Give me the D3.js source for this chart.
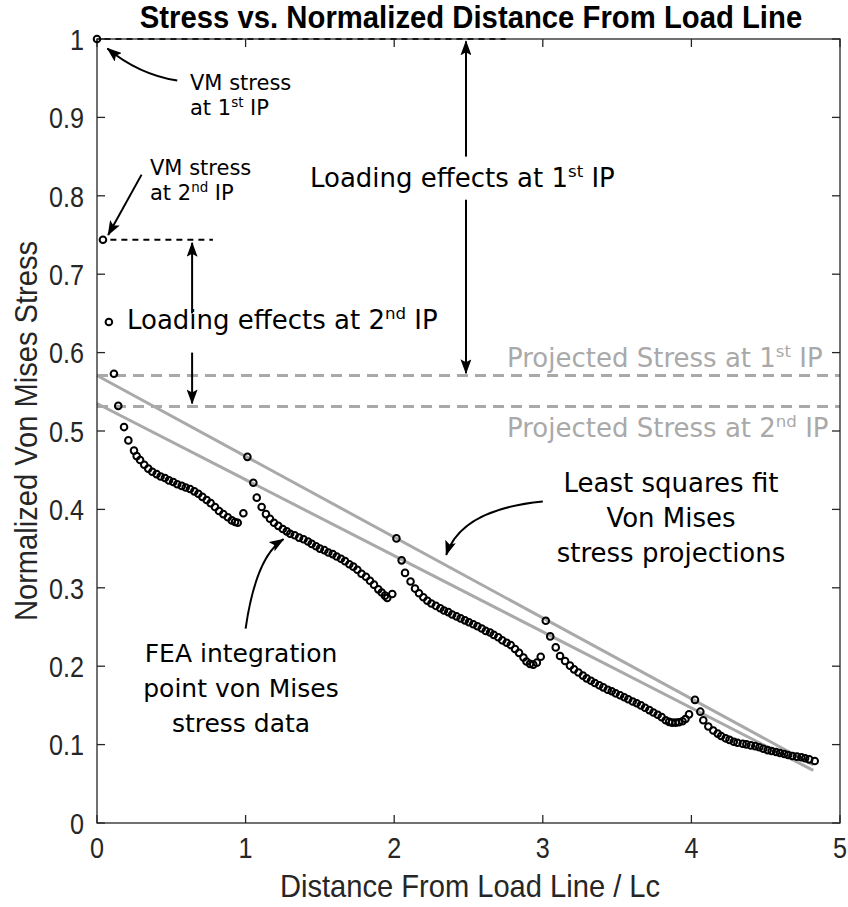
<!DOCTYPE html>
<html>
<head>
<meta charset="utf-8">
<script src="https://cdn.jsdelivr.net/npm/d3@7"></script>
<style>
  body { margin: 0; background: #fff; }
  .axisfont { font-family: "Liberation Sans", Arial, Helvetica, sans-serif; }
  .note { font-family: "DejaVu Sans", Verdana, sans-serif; }
</style>
</head>
<body>
<svg id="chart" width="848" height="907"></svg>
<script>
// Integration-point von Mises stress, normalized, per element (distance / Lc)
const elem1X = [0, 0.04, 0.08, 0.114, 0.143, 0.182, 0.211, 0.249, 0.267, 0.29, 0.318, 0.345, 0.372, 0.401, 0.428, 0.457, 0.484, 0.513, 0.54, 0.57, 0.597, 0.626, 0.655, 0.682, 0.709, 0.738, 0.765, 0.794, 0.821, 0.85, 0.88, 0.907, 0.929, 0.947, 0.985];
const elem1Y = [1.0, 0.744, 0.639, 0.573, 0.532, 0.505, 0.488, 0.475, 0.468, 0.463, 0.457, 0.452, 0.448, 0.445, 0.442, 0.440, 0.437, 0.435, 0.432, 0.430, 0.428, 0.426, 0.423, 0.420, 0.416, 0.412, 0.408, 0.403, 0.398, 0.394, 0.390, 0.386, 0.384, 0.383, 0.395];

const elem2X = [1.012, 1.052, 1.075, 1.108, 1.137, 1.164, 1.191, 1.22, 1.25, 1.277, 1.30, 1.33, 1.36, 1.39, 1.42, 1.445, 1.474, 1.50, 1.53, 1.557, 1.586, 1.613, 1.642, 1.669, 1.698, 1.725, 1.752, 1.78, 1.81, 1.837, 1.864, 1.893, 1.916, 1.938, 1.953, 1.987];
const elem2Y = [0.467, 0.434, 0.415, 0.403, 0.394, 0.388, 0.383, 0.379, 0.375, 0.372, 0.369, 0.367, 0.364, 0.362, 0.359, 0.356, 0.353, 0.350, 0.348, 0.345, 0.343, 0.340, 0.337, 0.334, 0.330, 0.327, 0.323, 0.318, 0.314, 0.309, 0.304, 0.298, 0.294, 0.290, 0.287, 0.292];

const elem3X = [2.015, 2.05, 2.073, 2.11, 2.14, 2.167, 2.196, 2.223, 2.25, 2.28, 2.31, 2.335, 2.364, 2.39, 2.42, 2.447, 2.476, 2.503, 2.532, 2.56, 2.589, 2.616, 2.645, 2.67, 2.70, 2.727, 2.757, 2.784, 2.813, 2.84, 2.87, 2.89, 2.914, 2.936, 2.96, 2.986];
const elem3Y = [0.363, 0.335, 0.319, 0.308, 0.299, 0.293, 0.288, 0.2835, 0.280, 0.277, 0.274, 0.271, 0.269, 0.266, 0.2635, 0.261, 0.2585, 0.256, 0.2535, 0.251, 0.248, 0.245, 0.243, 0.240, 0.237, 0.233, 0.230, 0.227, 0.222, 0.217, 0.211, 0.206, 0.203, 0.202, 0.2045, 0.212];

const elem4X = [3.02, 3.05, 3.087, 3.116, 3.15, 3.183, 3.21, 3.24, 3.27, 3.295, 3.324, 3.35, 3.38, 3.407, 3.437, 3.464, 3.49, 3.52, 3.548, 3.575, 3.605, 3.632, 3.66, 3.688, 3.717, 3.744, 3.773, 3.80, 3.827, 3.85, 3.87, 3.894, 3.916, 3.94, 3.96, 3.984];
const elem4Y = [0.258, 0.238, 0.224, 0.213, 0.2066, 0.2007, 0.196, 0.192, 0.188, 0.1845, 0.1815, 0.1786, 0.1756, 0.173, 0.170, 0.168, 0.1654, 0.1629, 0.1603, 0.1578, 0.155, 0.1527, 0.150, 0.147, 0.144, 0.141, 0.138, 0.135, 0.131, 0.129, 0.128, 0.128, 0.1285, 0.1297, 0.1327, 0.1386];

const elem5X = [4.024, 4.06, 4.08, 4.114, 4.147, 4.177, 4.20, 4.23, 4.256, 4.285, 4.31, 4.345, 4.37, 4.40, 4.43, 4.457, 4.484, 4.513, 4.54, 4.57, 4.596, 4.625, 4.65, 4.68, 4.71, 4.74, 4.765, 4.793, 4.83];
const elem5Y = [0.157, 0.142, 0.131, 0.123, 0.118, 0.114, 0.111, 0.108, 0.106, 0.1037, 0.1024, 0.1011, 0.1003, 0.099, 0.098, 0.0966, 0.0948, 0.093, 0.0918, 0.0906, 0.0893, 0.088, 0.0867, 0.0855, 0.0846, 0.0838, 0.0825, 0.0812, 0.079];

const xTicks = [0, 1, 2, 3, 4, 5];
const xTickLabels = ["0", "1", "2", "3", "4", "5"];
const yTicks = [0, 0.1, 0.2, 0.3, 0.4, 0.5, 0.6, 0.7, 0.8, 0.9, 1];
const yTickLabels = ["0", "0.1", "0.2", "0.3", "0.4", "0.5", "0.6", "0.7", "0.8", "0.9", "1"];
const fitEndX = 4.82;

const elemX = [elem1X, elem2X, elem3X, elem4X, elem5X];
const elemY = [elem1Y, elem2Y, elem3Y, elem4Y, elem5Y];

const svg = d3.select("#chart");
const plot = { left: 97, right: 840, top: 39, bottom: 823 };
const x = d3.scaleLinear().domain([0, 5]).range([plot.left, plot.right]);
const y = d3.scaleLinear().domain([0, 1]).range([plot.bottom, plot.top]);

// Least-squares line through a set of points
function lsq(px, py) {
  const mx = d3.mean(px), my = d3.mean(py);
  let sxy = 0, sxx = 0;
  px.forEach((v, i) => { sxy += (v - mx) * (py[i] - my); sxx += (v - mx) * (v - mx); });
  const m = sxy / sxx;
  return { m, b: my - m * mx, at: t => my + m * (t - mx) };
}
// First and second integration points of elements 2..5 define the projections
const fit1 = lsq(elemX.slice(1).map(a => a[0]), elemY.slice(1).map(a => a[0]));
const fit2 = lsq(elemX.slice(1).map(a => a[1]), elemY.slice(1).map(a => a[1]));
const proj1 = fit1.at(elem1X[0]);
const proj2 = fit2.at(elem1X[1]);

const defs = svg.append("defs");
defs.append("marker").attr("id", "head")
  .attr("markerUnits", "userSpaceOnUse")
  .attr("viewBox", "0 0 15 11").attr("markerWidth", 15).attr("markerHeight", 11)
  .attr("refX", 14).attr("refY", 5.5).attr("orient", "auto")
  .append("path").attr("d", "M0,0 L15,5.5 L0,11 L3,5.5 Z").attr("fill", "#000");

const gray = "#a9a9a9";

// Projected stress reference lines
[proj1, proj2].forEach(v => {
  svg.append("line")
    .attr("x1", x(0)).attr("x2", x(5)).attr("y1", y(v)).attr("y2", y(v))
    .attr("stroke", gray).attr("stroke-width", 3).attr("stroke-dasharray", "11,7");
});

// Least squares fit lines
[fit1, fit2].forEach(f => {
  svg.append("line")
    .attr("x1", x(0)).attr("x2", x(fitEndX)).attr("y1", y(f.at(0))).attr("y2", y(f.at(fitEndX)))
    .attr("stroke", gray).attr("stroke-width", 3);
});

// Stress levels at the first two integration points
svg.append("line")
  .attr("x1", x(0.05)).attr("x2", x(2.75)).attr("y1", y(elem1Y[0])).attr("y2", y(elem1Y[0]))
  .attr("stroke", "#000").attr("stroke-width", 2).attr("stroke-dasharray", "6,5");
svg.append("line")
  .attr("x1", x(0.09)).attr("x2", x(0.78)).attr("y1", y(elem1Y[1])).attr("y2", y(elem1Y[1]))
  .attr("stroke", "#000").attr("stroke-width", 2).attr("stroke-dasharray", "6,5");

// Axes box with inward ticks
const axisColor = "#262626";
const tickLen = 8;
svg.append("rect")
  .attr("x", plot.left).attr("y", plot.top)
  .attr("width", plot.right - plot.left).attr("height", plot.bottom - plot.top)
  .attr("fill", "none").attr("stroke", axisColor).attr("stroke-width", 1.3);

const ticks = svg.append("g").attr("stroke", axisColor).attr("stroke-width", 1.3);
xTicks.forEach(t => {
  ticks.append("line").attr("x1", x(t)).attr("x2", x(t)).attr("y1", plot.bottom).attr("y2", plot.bottom - tickLen);
  ticks.append("line").attr("x1", x(t)).attr("x2", x(t)).attr("y1", plot.top).attr("y2", plot.top + tickLen);
});
yTicks.forEach(t => {
  ticks.append("line").attr("y1", y(t)).attr("y2", y(t)).attr("x1", plot.left).attr("x2", plot.left + tickLen);
  ticks.append("line").attr("y1", y(t)).attr("y2", y(t)).attr("x1", plot.right).attr("x2", plot.right - tickLen);
});

// Condensed axis text: horizontal squeeze of the sans face
const tickFont = 30, tickSqueeze = 0.84;
svg.append("g").attr("class", "axisfont").selectAll("text").data(xTicks).join("text")
  .attr("transform", d => `translate(${x(d)},858) scale(${tickSqueeze},1)`)
  .attr("text-anchor", "middle")
  .attr("font-size", tickFont).attr("fill", axisColor)
  .text((d, i) => xTickLabels[i]);
svg.append("g").attr("class", "axisfont").selectAll("text").data(yTicks).join("text")
  .attr("transform", d => `translate(84,${y(d)}) scale(${tickSqueeze},1)`)
  .attr("dy", "0.36em").attr("text-anchor", "end")
  .attr("font-size", tickFont).attr("fill", axisColor)
  .text((d, i) => yTickLabels[i]);

const labelSqueeze = 0.91;
svg.append("text").attr("class", "axisfont")
  .attr("transform", `translate(470,897) scale(${labelSqueeze},1)`).attr("text-anchor", "middle")
  .attr("font-size", 32).attr("fill", axisColor)
  .text("Distance From Load Line / Lc");
svg.append("text").attr("class", "axisfont")
  .attr("transform", `translate(37,431) rotate(-90) scale(${labelSqueeze},1)`).attr("text-anchor", "middle")
  .attr("font-size", 32).attr("fill", axisColor)
  .text("Normalized Von Mises Stress");
svg.append("text").attr("class", "axisfont")
  .attr("transform", "translate(471,28) scale(0.93,1)").attr("text-anchor", "middle")
  .attr("font-size", 31.5).attr("font-weight", "bold").attr("fill", "#000")
  .text("Stress vs. Normalized Distance From Load Line");

// Data markers
const pts = [];
elemX.forEach((xs, k) => xs.forEach((v, i) => pts.push([v, elemY[k][i]])));
svg.append("g").selectAll("circle").data(pts).join("circle")
  .attr("cx", d => x(d[0])).attr("cy", d => y(d[1])).attr("r", 3.3)
  .attr("fill", "none").attr("stroke", "#000").attr("stroke-width", 2);

// Annotation text with superscript ordinals: parts = [text, sup?]
function note(px, py, parts, size, fill) {
  const t = svg.append("text").attr("class", "note")
    .attr("x", px).attr("y", py).attr("font-size", size).attr("fill", fill || "#000");
  let raised = false;
  parts.forEach(([s, sup]) => {
    const sp = t.append("tspan").text(s);
    if (sup && !raised) { sp.attr("font-size", size * 0.64).attr("dy", -size * 0.38); raised = true; }
    else if (!sup && raised) { sp.attr("dy", size * 0.38); raised = false; }
  });
  return t;
}
const big = 26, small = 21;
note(190, 90, [["VM stress"]], small);
note(190, 115, [["at 1"], ["st", 1], [" IP"]], small);
note(150, 175, [["VM stress"]], small);
note(150, 200, [["at 2"], ["nd", 1], [" IP"]], small);
note(310, 187, [["Loading effects at 1"], ["st", 1], [" IP"]], big);
note(127, 329, [["Loading effects at 2"], ["nd", 1], [" IP"]], big);
note(507, 367, [["Projected Stress at 1"], ["st", 1], [" IP"]], big, gray);
note(507, 437, [["Projected Stress at 2"], ["nd", 1], [" IP"]], big, gray);
[["Least squares fit", 492], ["Von Mises", 527], ["stress projections", 562]].forEach(([s, py]) => {
  note(671, py, [[s]], big).attr("text-anchor", "middle");
});
[["FEA integration", 662], ["point von Mises", 697], ["stress data", 732]].forEach(([s, py]) => {
  note(241, py, [[s]], 25).attr("text-anchor", "middle");
});

// Arrows (positions in data units)
function arrow(p0, c, p1) {
  const d = d3.path();
  d.moveTo(x(p0[0]), y(p0[1]));
  if (c) d.quadraticCurveTo(x(c[0]), y(c[1]), x(p1[0]), y(p1[1]));
  else d.lineTo(x(p1[0]), y(p1[1]));
  svg.append("path").attr("d", d.toString()).attr("fill", "none")
    .attr("stroke", "#000").attr("stroke-width", 2).attr("marker-end", "url(#head)");
}
arrow([0.54, 0.947], [0.28, 0.955], [0.07, 0.988]);
arrow([0.30, 0.827], null, [0.075, 0.75]);
arrow([2.483, 0.85], null, [2.483, elem1Y[0] - 0.003]);
arrow([2.483, 0.795], null, [2.483, proj1 + 0.003]);
arrow([0.64, 0.65], null, [0.64, elem1Y[1] - 0.004]);
arrow([0.64, 0.60], null, [0.64, proj2 + 0.004]);
arrow([3.0, 0.410], [2.45, 0.400], [2.35, 0.342]);
arrow([1.0, 0.248], [1.07, 0.34], [1.255, 0.362]);
</script>
</body>
</html>
